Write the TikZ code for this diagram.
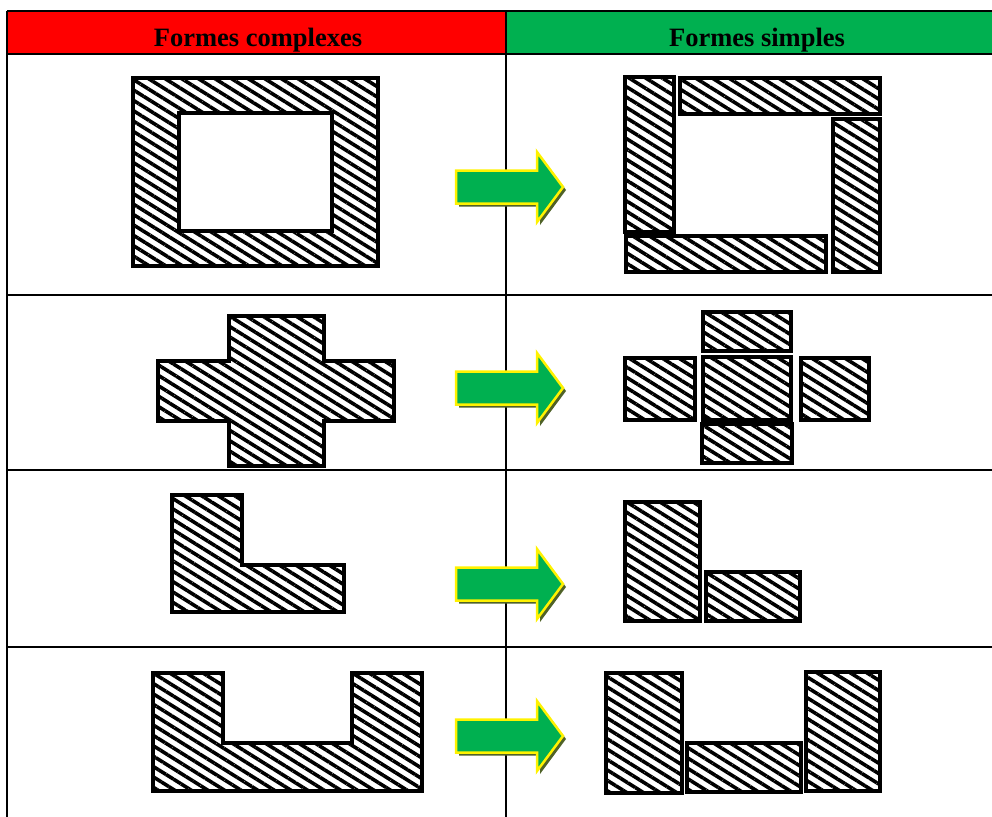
\documentclass[tikz,border=0pt]{standalone}
\usepackage{fontspec}
\setmainfont{Liberation Serif}
\usetikzlibrary{patterns.meta}
\definecolor{headred}{RGB}{255,0,0}
\definecolor{headgreen}{RGB}{0,176,80}
\definecolor{arrowshade}{RGB}{79,98,40}
\tikzset{
  hatched/.style={draw=black, line width=4pt,
    pattern={Lines[angle=-32, distance=8.8pt, line width=3.6pt]}},
  grid/.style={line width=2pt},
  headtext/.style={font=\fontsize{26.5}{30}\selectfont\bfseries, inner sep=0pt, anchor=base},
  bigarrow/.pic={
    \fill[arrowshade] (3,-13.5) -- (84,-13.5) -- (84,-32) -- (110,3) -- (84,38) -- (84,19.5) -- (3,19.5) -- cycle;
    \draw[fill=headgreen, draw=yellow, line width=2.5pt, line join=miter]
      (0,-16.5) -- (81,-16.5) -- (81,-35) -- (107,0) -- (81,35) -- (81,16.5) -- (0,16.5) -- cycle;
  }
}
\begin{document}
\begin{tikzpicture}[x=1pt, y=-1pt]
  \useasboundingbox (0,0) rectangle (992,816);

  % header cells
  \fill[headred] (7,11) rectangle (506,54);
  \fill[headgreen] (506,11) rectangle (1010,54);
  \node[headtext] (hcomplex) at (258,46) {Formes complexes};
  \node[headtext] (hsimple) at (757,46) {Formes simples};

  % table rules
  \foreach \y in {11,54,295,470,647}
    \draw[grid] (7,\y) -- (1010,\y);
  \foreach \x in {7,506}
    \draw[grid] (\x,11) -- (\x,820);

  % row 1: frame
  \draw[hatched, even odd rule] (133,78) rectangle (378,266) (179,113) rectangle (332,231);
  \foreach \a/\b/\c/\d in {625/77/674/232, 680/78/880/114, 833/119/880/272, 626/236/826/272}
    \draw[hatched] (\a,\b) rectangle (\c,\d);

  % row 2: cross
  \draw[hatched] (229,316) -- (324,316) -- (324,361) -- (394,361) -- (394,421) -- (324,421)
    -- (324,466) -- (229,466) -- (229,421) -- (158,421) -- (158,361) -- (229,361) -- cycle;
  \foreach \a/\b/\c/\d in {703/312/791/351, 703/357/791/420, 625/358/695/420, 801/358/869/420, 702/424/792/463}
    \draw[hatched] (\a,\b) rectangle (\c,\d);

  % row 3: L shape
  \draw[hatched] (172,495) -- (242,495) -- (242,565) -- (344,565) -- (344,612) -- (172,612) -- cycle;
  \foreach \a/\b/\c/\d in {625/502/700/621, 706/572/800/621}
    \draw[hatched] (\a,\b) rectangle (\c,\d);

  % row 4: U shape
  \draw[hatched] (153,673) -- (223,673) -- (223,743) -- (352,743) -- (352,673) -- (422,673)
    -- (422,791) -- (153,791) -- cycle;
  \foreach \a/\b/\c/\d in {606/673/682/793, 687/743/801/792, 806/672/880/791}
    \draw[hatched] (\a,\b) rectangle (\c,\d);

  % arrows between the columns
  \foreach \y in {187,388,584,736}
    \pic at (456,\y) {bigarrow};
\end{tikzpicture}
\end{document}
